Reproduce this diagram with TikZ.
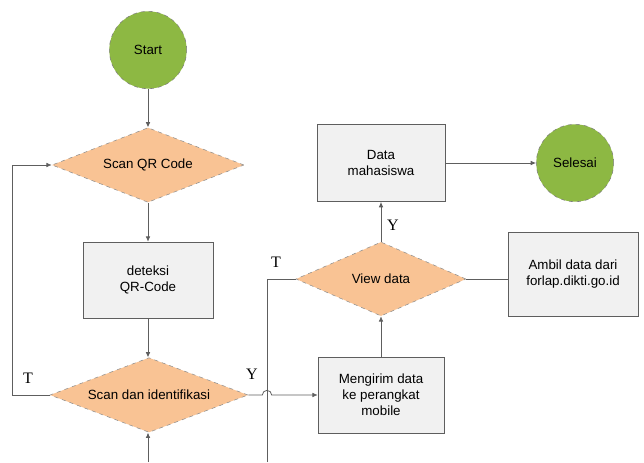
\documentclass[tikz,border=0pt]{standalone}
\usepackage{fontspec}
\setmainfont{Liberation Sans}
\newfontfamily\labelfont{Liberation Serif}
\usetikzlibrary{arrows.meta, positioning, shapes.geometric, calc}
\definecolor{termgreen}{HTML}{8DB843}
\definecolor{decorange}{HTML}{F9C394}
\definecolor{linegray}{HTML}{5E5E5E}
\definecolor{boxfill}{HTML}{F1F1F1}
\tikzset{
  terminal/.style={circle, draw=linegray!80, dashed, fill=termgreen, minimum size=58pt, inner sep=0pt, font=\fontsize{10}{12}\selectfont},
  decision/.style={diamond, shape aspect=2.6, draw=linegray!70, dashed, fill=decorange, inner sep=0pt, minimum height=56pt, font=\fontsize{10}{12}\selectfont},
  process/.style={rectangle, draw=linegray, fill=boxfill, align=center, minimum width=96pt, minimum height=57pt, font=\fontsize{10}{12}\selectfont},
  flow/.style={draw=linegray, line width=0.6pt, -{Latex[length=4pt,width=3.5pt]}},
  link/.style={draw=linegray, line width=0.6pt},
  yn/.style={font=\labelfont\fontsize{12}{14}\selectfont}
}
\begin{document}
\begin{tikzpicture}[x=0.75pt,y=-0.75pt]
  \useasboundingbox (0,0) rectangle (644,462);

  % left column
  \node[terminal] (start) at (148,50) {Start};
  \node[decision, minimum width=144pt] (scan) at (148,165) {Scan QR Code};
  \node[process, minimum width=97.5pt] (deteksi) at (148,280) {deteksi\\QR-Code};
  \node[decision, minimum width=148.5pt] (ident) at (149,395) {Scan dan identifikasi};

  % right part
  \node[decision, minimum width=127.5pt, minimum height=55.5pt] (view) at (381,279) {View data};
  \node[process, minimum width=94.5pt] (kirim) at (381,395) {Mengirim data\\ke perangkat\\mobile};
  \node[process, minimum height=58pt] (mhs) at (381,163) {Data\\mahasiswa};
  \node[process, minimum width=97.5pt, minimum height=63pt] (ambil) at (573,274) {Ambil data dari\\forlap.dikti.go.id};
  \node[terminal] (selesai) at (575,163) {Selesai};

  \coordinate (loopx) at (12,0);
  \coordinate (trunk) at (267,462);
  \coordinate (inbot) at (148,462);

  \draw[flow] (start) -- (scan);
  \draw[flow] (scan) -- (deteksi);
  \draw[flow] (deteksi.south) -- (deteksi.south |- ident.north);
  \draw[flow] (inbot) -- (inbot |- ident.south);
  \draw[flow] (ident.west) -- (ident.west -| loopx) |- (scan.west);
  \node[yn] (tl) at (28,378) {T};

  \draw[link] (trunk) |- (view.west);
  \node[yn] (tv) at (276,262) {T};

  \draw[flow] (ident.east) -- ([xshift=-3.5pt]ident.east -| trunk) arc[start angle=180, end angle=0, radius=3.5pt] -- (kirim.west);
  \node[yn] (yi) at (252,374) {Y};

  \draw[flow] (kirim) -- (view);
  \draw[flow] (view) -- (mhs);
  \node[yn] (yv) at (393,225) {Y};
  \draw[link] (view.east) -- (ambil.west |- view.east);
  \draw[flow] (mhs) -- (selesai);
\end{tikzpicture}
\end{document}
